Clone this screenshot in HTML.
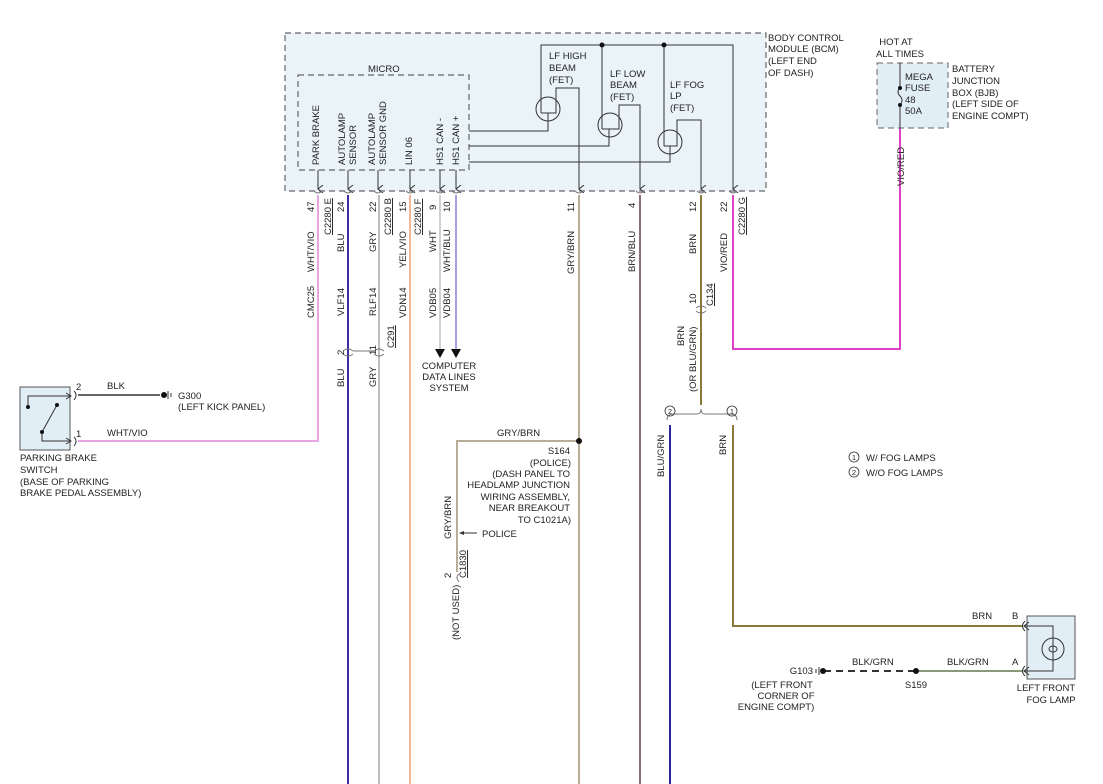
<!DOCTYPE html>
<html><head><style>
html,body{margin:0;padding:0;background:#fff;}
svg{display:block;font-family:"Liberation Sans",sans-serif;font-size:9.5px;fill:#222;}
text{fill:#222;}
</style></head><body>
<svg width="1103" height="784" viewBox="0 0 1103 784" xmlns="http://www.w3.org/2000/svg">
<defs>
<marker id="ar" markerWidth="8" markerHeight="8" refX="4" refY="7" orient="auto" markerUnits="userSpaceOnUse"><path d="M0,2 L4,7 L8,2" fill="none" stroke="#333" stroke-width="1"/></marker>
</defs>
<!-- BCM -->
<rect x="285" y="33" width="481" height="158" fill="#e9f3f8" stroke="#666" stroke-dasharray="6,4" stroke-width="1.2"/>
<rect x="298" y="75" width="171" height="95" fill="#e9f3f8" stroke="#666" stroke-dasharray="6,4" stroke-width="1.2"/>
<text x="368" y="72">MICRO</text>
<g font-size="9.5">
<text transform="translate(319,165) rotate(-90)">PARK BRAKE</text>
<text transform="translate(345,165) rotate(-90)">AUTOLAMP</text>
<text transform="translate(356,165) rotate(-90)">SENSOR</text>
<text transform="translate(375,165) rotate(-90)">AUTOLAMP</text>
<text transform="translate(386,165) rotate(-90)">SENSOR GND</text>
<text transform="translate(412,165) rotate(-90)">LIN 06</text>
<text transform="translate(443,165) rotate(-90)">HS1 CAN -</text>
<text transform="translate(459,165) rotate(-90)">HS1 CAN +</text>
</g>
<g stroke="#333" stroke-width="1" fill="none">
<line x1="318" y1="170" x2="318" y2="189" marker-end="url(#ar)"/>
<line x1="348" y1="170" x2="348" y2="189" marker-end="url(#ar)"/>
<line x1="378" y1="170" x2="378" y2="189" marker-end="url(#ar)"/>
<line x1="410" y1="170" x2="410" y2="189" marker-end="url(#ar)"/>
<line x1="440" y1="170" x2="440" y2="189" marker-end="url(#ar)"/>
<line x1="456" y1="170" x2="456" y2="189" marker-end="url(#ar)"/>
<!-- bus -->
<polyline points="541,113 541,45 733,45 733,189" marker-end="url(#ar)"/>
<line x1="602" y1="45" x2="602" y2="129"/>
<line x1="664" y1="45" x2="664" y2="146"/>
<!-- FET1 -->
<circle cx="548" cy="109" r="12"/>
<polyline points="541,113 556,113 556,88 579,88 579,189" marker-end="url(#ar)"/>
<polyline points="548,113 548,131 469,131"/>
<!-- FET2 -->
<circle cx="610" cy="125" r="12"/>
<polyline points="602,129 619,129 619,105 640,105 640,189" marker-end="url(#ar)"/>
<polyline points="609,129 609,146 469,146"/>
<!-- FET3 -->
<circle cx="670" cy="142" r="12"/>
<polyline points="664,146 677,146 677,120 701,120 701,189" marker-end="url(#ar)"/>
<polyline points="670,146 670,162 469,162"/>
</g>
<circle cx="602" cy="45" r="2.5" fill="#111"/>
<circle cx="664" cy="45" r="2.5" fill="#111"/>
<text x="549" y="59">LF HIGH</text><text x="549" y="71">BEAM</text><text x="549" y="83">(FET)</text>
<text x="610" y="77">LF LOW</text><text x="610" y="88">BEAM</text><text x="610" y="100">(FET)</text>
<text x="670" y="88">LF FOG</text><text x="670" y="99">LP</text><text x="670" y="111">(FET)</text>
<text x="768" y="41">BODY CONTROL</text><text x="768" y="52">MODULE (BCM)</text><text x="768" y="64">(LEFT END</text><text x="768" y="76">OF DASH)</text>

<!-- connectors at top -->
<g stroke="#777" fill="none" stroke-width="1">
<path d="M314,191 q4,4 8,0"/><path d="M344,191 q4,4 8,0"/><path d="M374,191 q4,4 8,0"/><path d="M406,191 q4,4 8,0"/><path d="M436,191 q4,4 8,0"/><path d="M452,191 q4,4 8,0"/><path d="M575,191 q4,4 8,0"/><path d="M636,191 q4,4 8,0"/><path d="M697,191 q4,4 8,0"/><path d="M729,191 q4,4 8,0"/>
</g>
<!-- wires -->
<g fill="none" stroke-width="2">
<polyline points="318,195 318,441 78,441" stroke="#e6a6e4"/>
<line x1="348" y1="195" x2="348" y2="784" stroke="#3b2ba6"/>
<line x1="379" y1="195" x2="379" y2="784" stroke="#bdbdbd"/>
<line x1="410" y1="195" x2="410" y2="784" stroke="#f3b696"/>
<line x1="440" y1="195" x2="440" y2="350" stroke="#d0d0d0"/>
<line x1="456" y1="195" x2="456" y2="350" stroke="#aa9ce0"/>
<line x1="579" y1="195" x2="579" y2="784" stroke="#b8ad98"/>
<polyline points="579,441 457,441 457,572" stroke="#b8ad98"/>
<line x1="640" y1="195" x2="640" y2="784" stroke="#8c6f7a"/>
<line x1="701" y1="195" x2="701" y2="405" stroke="#8a7a3a"/>
<polyline points="733,195 733,349 900,349 900,128" stroke="#e040c8"/>
<line x1="670" y1="425" x2="670" y2="784" stroke="#2a2aa0"/>
<polyline points="733,425 733,626 1022,626" stroke="#8a7a3a"/>
<line x1="916" y1="671" x2="1022" y2="671" stroke="#8a9a78"/>
<line x1="78" y1="395" x2="160" y2="395" stroke="#333" stroke-width="1.5"/>
</g>
<line x1="824" y1="671" x2="916" y2="671" stroke="#333" stroke-width="2" stroke-dasharray="7,5"/>
<!-- C291 / C134 -->
<g stroke="#777" fill="none">
<path d="M343,351 q5,-4 10,0"/><path d="M343,354 q5,4 10,0"/>
<path d="M374,351 q5,-4 10,0"/><path d="M374,354 q5,4 10,0"/>
<line x1="353" y1="351" x2="374" y2="351"/>
<path d="M696,308 q5,-4 10,0"/><path d="M696,311 q5,4 10,0"/>
<path d="M667,420 q0,-6 7,-6 L697,414 q4,0 4,-5 q0,5 4,5 L730,414 q7,0 7,6"/>
<path d="M459,574 q-4,3 0,8"/>
</g>
<!-- rotated labels -->
<g>
<text transform="translate(314,212) rotate(-90)">47</text>
<text transform="translate(331,235) rotate(-90)" text-decoration="underline">C2280 E</text>
<text transform="translate(344,212) rotate(-90)">24</text>
<text transform="translate(314,272) rotate(-90)">WHT/VIO</text>
<text transform="translate(344,252) rotate(-90)">BLU</text>
<text transform="translate(314,318) rotate(-90)">CMC25</text>
<text transform="translate(344,316) rotate(-90)">VLF14</text>
<text transform="translate(376,212) rotate(-90)">22</text>
<text transform="translate(391,235) rotate(-90)" text-decoration="underline">C2280 B</text>
<text transform="translate(406,212) rotate(-90)">15</text>
<text transform="translate(376,252) rotate(-90)">GRY</text>
<text transform="translate(406,268) rotate(-90)">YEL/VIO</text>
<text transform="translate(376,316) rotate(-90)">RLF14</text>
<text transform="translate(406,318) rotate(-90)">VDN14</text>
<text transform="translate(421,235) rotate(-90)" text-decoration="underline">C2280 F</text>
<text transform="translate(436,210) rotate(-90)">9</text>
<text transform="translate(436,252) rotate(-90)">WHT</text>
<text transform="translate(450,212) rotate(-90)">10</text>
<text transform="translate(450,272) rotate(-90)">WHT/BLU</text>
<text transform="translate(436,318) rotate(-90)">VDB05</text>
<text transform="translate(450,318) rotate(-90)">VDB04</text>
<text transform="translate(344,355) rotate(-90)">2</text>
<text transform="translate(376,355) rotate(-90)">11</text>
<text transform="translate(394,348) rotate(-90)" text-decoration="underline">C291</text>
<text transform="translate(344,387) rotate(-90)">BLU</text>
<text transform="translate(376,387) rotate(-90)">GRY</text>
<text transform="translate(574,212) rotate(-90)">11</text>
<text transform="translate(574,274) rotate(-90)">GRY/BRN</text>
<text transform="translate(635,208) rotate(-90)">4</text>
<text transform="translate(635,272) rotate(-90)">BRN/BLU</text>
<text transform="translate(696,212) rotate(-90)">12</text>
<text transform="translate(696,254) rotate(-90)">BRN</text>
<text transform="translate(727,212) rotate(-90)">22</text>
<text transform="translate(727,272) rotate(-90)">VIO/RED</text>
<text transform="translate(745,235) rotate(-90)" text-decoration="underline">C2280 G</text>
<text transform="translate(696,304) rotate(-90)">10</text>
<text transform="translate(713,306) rotate(-90)" text-decoration="underline">C134</text>
<text transform="translate(684,346) rotate(-90)">BRN</text>
<text transform="translate(696,392) rotate(-90)">(OR BLU/GRN)</text>
<text transform="translate(664,477) rotate(-90)">BLU/GRN</text>
<text transform="translate(726,455) rotate(-90)">BRN</text>
<text transform="translate(904,186) rotate(-90)">VIO/RED</text>
<text transform="translate(451,539) rotate(-90)">GRY/BRN</text>
<text transform="translate(466,578) rotate(-90)" text-decoration="underline">C1830</text>
<text transform="translate(451,578) rotate(-90)">2</text>
<text transform="translate(459,640) rotate(-90)">(NOT USED)</text>
</g>
<!-- data line arrows -->
<path d="M435,349 L445,349 L440,358 Z" fill="#111"/>
<path d="M451,349 L461,349 L456,358 Z" fill="#111"/>
<text x="449" y="369" text-anchor="middle">COMPUTER</text>
<text x="449" y="380" text-anchor="middle">DATA LINES</text>
<text x="449" y="391" text-anchor="middle">SYSTEM</text>
<!-- S164 -->
<circle cx="579" cy="441" r="3" fill="#111"/>
<text x="497" y="436">GRY/BRN</text>
<g text-anchor="end">
<text x="570" y="454">S164</text><text x="571" y="466">(POLICE)</text><text x="570" y="477">(DASH PANEL TO</text><text x="570" y="488">HEADLAMP JUNCTION</text><text x="570" y="500">WIRING ASSEMBLY,</text><text x="570" y="511">NEAR BREAKOUT</text><text x="571" y="523">TO C1021A)</text>
</g>
<line x1="461" y1="533" x2="477" y2="533" stroke="#333"/>
<path d="M459,533 L464,531 L464,535 Z" fill="#333"/>
<text x="482" y="537">POLICE</text>
<!-- switch -->
<rect x="20" y="387" width="50" height="63" fill="#e2eef6" stroke="#555"/>
<g stroke="#333" fill="none">
<polyline points="28,407 28,396 71,396"/><polyline points="66,393 71,396 66,399"/>
<polyline points="42,432 42,441 71,441"/><polyline points="66,438 71,441 66,444"/>
<line x1="42" y1="432" x2="57" y2="405"/>
<path d="M74,391 q4,4 0,9"/><path d="M74,437 q4,4 0,9"/>
</g>
<circle cx="28" cy="407" r="2" fill="#111"/><circle cx="57" cy="405" r="2" fill="#111"/><circle cx="42" cy="432" r="2" fill="#111"/>
<text x="76" y="390">2</text><text x="76" y="437">1</text>
<text x="107" y="389">BLK</text><text x="107" y="436">WHT/VIO</text>
<circle cx="164" cy="395" r="3" fill="#111"/>
<line x1="168" y1="391" x2="168" y2="399" stroke="#333"/><line x1="171" y1="393" x2="171" y2="397" stroke="#333"/>
<text x="178" y="399">G300</text><text x="178" y="410">(LEFT KICK PANEL)</text>
<text x="20" y="461">PARKING BRAKE</text><text x="20" y="473">SWITCH</text><text x="20" y="485">(BASE OF PARKING</text><text x="20" y="496">BRAKE PEDAL ASSEMBLY)</text>
<!-- legend -->
<g fill="none" stroke="#333" stroke-width="0.8">
<circle cx="670" cy="411" r="5"/><circle cx="732" cy="411" r="5"/>
<circle cx="854" cy="457" r="5"/><circle cx="854" cy="472" r="5"/>
</g>
<g font-size="7.5" text-anchor="middle">
<text x="670" y="414">2</text><text x="732" y="414">1</text><text x="854" y="460">1</text><text x="854" y="475">2</text>
</g>
<text x="866" y="461">W/ FOG LAMPS</text><text x="866" y="476">W/O FOG LAMPS</text>
<!-- BJB -->
<rect x="877" y="63" width="71" height="65" fill="#e2eef6" stroke="#666" stroke-dasharray="6,4"/>
<line x1="900" y1="63" x2="900" y2="88" stroke="#333"/>
<path d="M900,88 q-4,4 0,8 q4,4 0,9" fill="none" stroke="#333"/>
<line x1="900" y1="105" x2="900" y2="128" stroke="#333"/>
<circle cx="900" cy="88" r="2" fill="#111"/><circle cx="900" cy="105" r="2" fill="#111"/>
<text x="896" y="45" text-anchor="middle">HOT AT</text><text x="900" y="57" text-anchor="middle">ALL TIMES</text>
<text x="905" y="80">MEGA</text><text x="905" y="91">FUSE</text><text x="905" y="103">48</text><text x="905" y="114">50A</text>
<text x="952" y="72">BATTERY</text><text x="952" y="84">JUNCTION</text><text x="952" y="96">BOX (BJB)</text><text x="952" y="107">(LEFT SIDE OF</text><text x="952" y="119">ENGINE COMPT)</text>
<!-- fog lamp -->
<rect x="1027" y="616" width="48" height="63" fill="#e2eef6" stroke="#555"/>
<g stroke="#333" fill="none">
<polyline points="1024,626 1053,626 1053,671 1024,671"/>
<polyline points="1029,622 1024,626 1029,630"/><polyline points="1029,667 1024,671 1029,675"/>
<path d="M1025,621 q-5,5 0,10"/><path d="M1025,666 q-5,5 0,10"/>
<circle cx="1053" cy="649" r="11"/>
<ellipse cx="1053" cy="649" rx="4" ry="3"/>
</g>
<text x="972" y="619">BRN</text><text x="1012" y="619">B</text>
<text x="947" y="665">BLK/GRN</text><text x="1012" y="665">A</text>
<text x="852" y="665">BLK/GRN</text>
<circle cx="916" cy="671" r="3" fill="#111"/>
<circle cx="823" cy="671" r="3" fill="#111"/>
<line x1="819" y1="667" x2="819" y2="675" stroke="#333"/><line x1="816" y1="669" x2="816" y2="673" stroke="#333"/>
<text x="813" y="674" text-anchor="end">G103</text>
<text x="782" y="688" text-anchor="middle">(LEFT FRONT</text><text x="786" y="699" text-anchor="middle">CORNER OF</text><text x="776" y="710" text-anchor="middle">ENGINE COMPT)</text>
<text x="916" y="688" text-anchor="middle">S159</text>
<text x="1046" y="691" text-anchor="middle">LEFT FRONT</text><text x="1051" y="703" text-anchor="middle">FOG LAMP</text>
</svg>
</body></html>
